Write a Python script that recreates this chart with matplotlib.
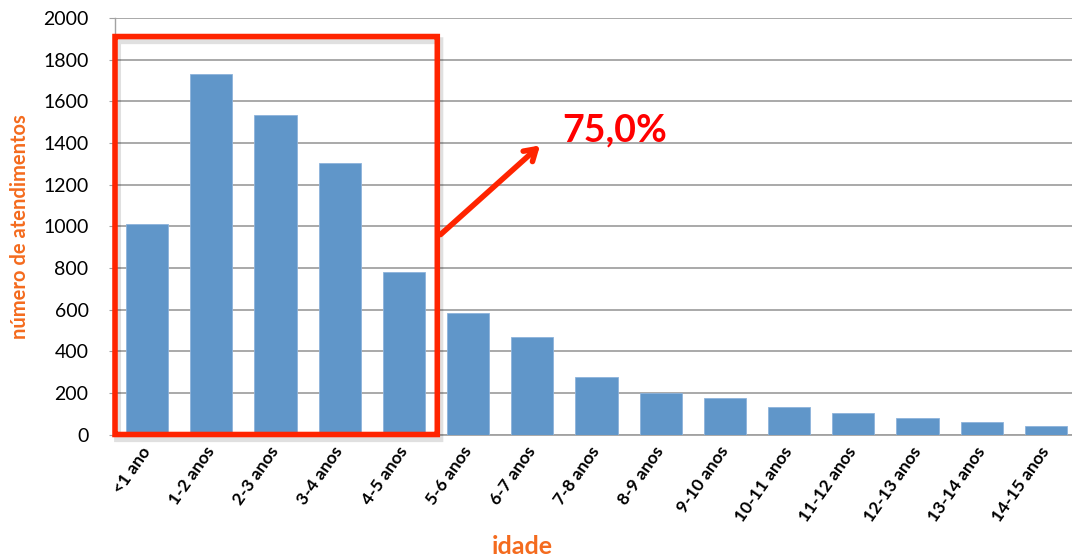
import matplotlib
matplotlib.use("Agg")
import matplotlib.pyplot as plt
from matplotlib.patches import FancyBboxPatch
import numpy as np

plt.rcParams['font.family'] = ['Lato', 'DejaVu Sans']

categories = ['<1 ano', '1-2 anos', '2-3 anos', '3-4 anos', '4-5 anos', '5-6 anos',
              '6-7 anos', '7-8 anos', '8-9 anos', '9-10 anos', '10-11 anos',
              '11-12 anos', '12-13 anos', '13-14 anos', '14-15 anos']
atendimentos = [1010, 1730, 1534, 1305, 778, 585, 468, 275, 198, 175, 133, 103, 81, 61, 42]
y_ticks = [0, 200, 400, 600, 800, 1000, 1200, 1400, 1600, 1800, 2000]
n_highlight = 5  # first five age groups, under 5 years

ORANGE = '#F46B1E'
RED = '#FF2400'
BLUE = '#6096C9'
GRID = '#A2A2A2'

fig = plt.figure(figsize=(10.72, 5.6), dpi=100)
ax = fig.add_axes([115 / 1072, 1 - 434.5 / 560, 963 / 1072, (434.5 - 18) / 560])

x = np.arange(len(categories))
ax.bar(x, atendimentos, width=0.66, color=BLUE, edgecolor='#8DB3DB', linewidth=0.6, zorder=3)

ax.set_xlim(-0.5, len(categories) - 0.5)
ax.set_ylim(0, 2000)
ax.set_yticks(y_ticks)
ax.set_yticklabels([str(v) for v in y_ticks], fontsize=14)
ax.yaxis.grid(True, color=GRID, linewidth=1.3, zorder=0)
ax.set_axisbelow(True)

for side in ['top', 'right']:
    ax.spines[side].set_visible(False)
ax.spines['left'].set_color(GRID)
ax.spines['bottom'].set_color(GRID)
ax.spines['left'].set_linewidth(1.0)
ax.spines['bottom'].set_linewidth(1.3)
ax.tick_params(axis='y', length=4, color=GRID, pad=15)
ax.tick_params(axis='x', length=0, pad=10)

ax.set_xticks(x)
ax.set_xticklabels(categories, rotation=55, ha='right', va='center',
                   rotation_mode='anchor', fontsize=12.5, fontweight='bold')

ax.set_ylabel('número de atendimentos', color=ORANGE, fontsize=14.5, fontweight='bold')
ax.yaxis.set_label_coords(-0.088, 0.5)
fig.text(522 / 1072, 1 - 546 / 560, 'idade', color=ORANGE, fontsize=18,
         fontweight='bold', ha='center', va='center')

# highlight box around the first age groups
box_right = n_highlight - 1 + 0.52
box_top = 1911
shadow = FancyBboxPatch((-0.5 + 0.04, -20), box_right + 0.5, box_top,
                        boxstyle='round,pad=0,rounding_size=0.03',
                        fill=False, edgecolor='#000000', alpha=0.12, linewidth=5,
                        clip_on=False, zorder=4)
ax.add_patch(shadow)
box = FancyBboxPatch((-0.5, 0), box_right + 0.5, box_top,
                     boxstyle='round,pad=0,rounding_size=0.03',
                     fill=False, edgecolor=RED, linewidth=4, clip_on=False, zorder=5)
ax.add_patch(box)

share = sum(atendimentos[:n_highlight]) / sum(atendimentos) * 100
label = f'{share:.1f}%'.replace('.', ',')

ax.annotate('', xy=(6.12, 1388), xytext=(box_right + 0.05, 960),
            arrowprops=dict(arrowstyle='->,head_length=0.8,head_width=0.5',
                            color=RED, lw=4, shrinkA=0, shrinkB=0),
            zorder=6, annotation_clip=False)
ax.text(6.46, 1460, label, color='#FF0000', fontsize=27, fontweight='bold',
        ha='left', va='center', zorder=6)

fig.savefig('out.png', dpi=100)
